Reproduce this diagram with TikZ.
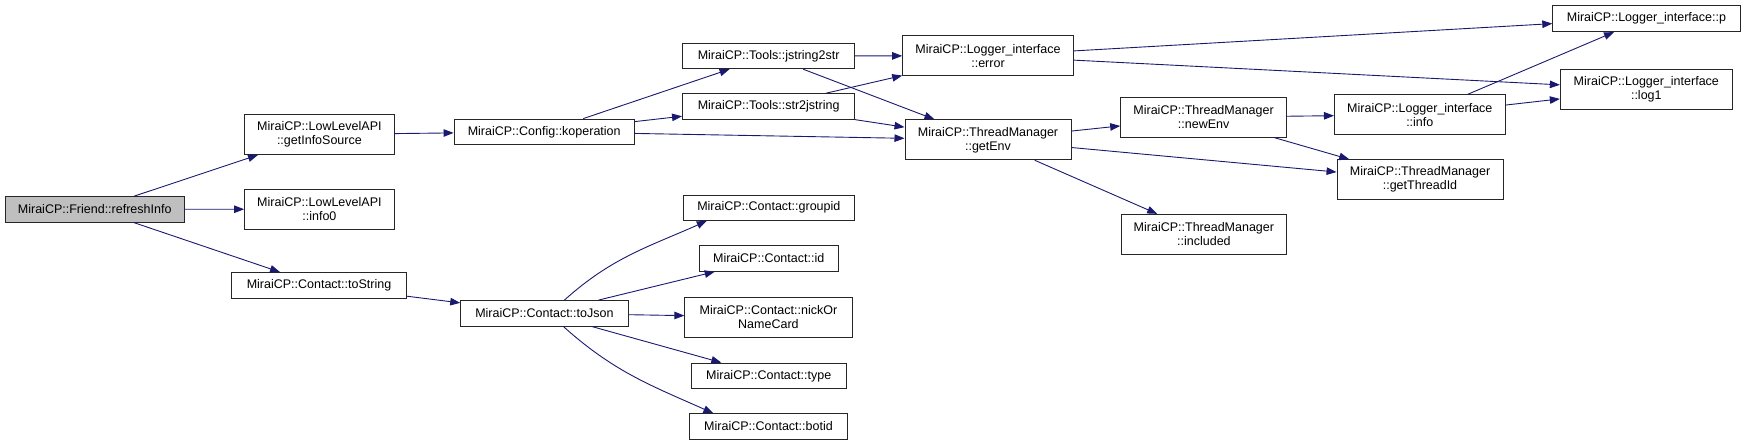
\documentclass[tikz,border=0pt]{standalone}
\usepackage{fontspec}
\setmainfont{Liberation Sans}
\usetikzlibrary{arrows.meta}
\definecolor{edgeBlue}{HTML}{191970}
\definecolor{rootGray}{HTML}{BFBFBF}
\tikzset{
  fn/.style={draw=black!85, line width=0.9pt, fill=white, inner sep=0pt, align=center,
    minimum height=25.5pt, font=\fontsize{12.5}{14}\selectfont},
  fntwo/.style={fn, minimum height=40pt},
  call/.style={draw=edgeBlue, line width=0.9pt, -{Triangle[length=10pt,width=7.5pt]}}
}

\begin{document}
\begin{tikzpicture}[x=1pt, y=1pt]
  \useasboundingbox (0,0) rectangle (1745,-445);
  % caller and first level
  \node[fn, fill=rootGray, minimum width=178.6pt] (refresh) at (94.7,-209.3) {MiraiCP::Friend::refreshInfo};
  \node[fntwo, minimum width=149.6pt] (getinfo) at (319.4,-134.5) {MiraiCP::LowLevelAPI\\::getInfoSource};
  \node[fntwo, minimum width=149.6pt] (infozero) at (319.4,-209.2) {MiraiCP::LowLevelAPI\\::info0};
  \node[fn, minimum width=175.4pt] (tostring) at (319,-285.3) {MiraiCP::Contact::toString};
  \node[fn, minimum width=180.4pt] (koperation) at (544.2,-131.8) {MiraiCP::Config::koperation};
  \node[fn, minimum width=167.4pt] (tojson) at (544.4,-313.3) {MiraiCP::Contact::toJson};
  % tools and contact
  \node[fn, minimum width=172.2pt] (jstr) at (768.6,-56) {MiraiCP::Tools::jstring2str};
  \node[fn, minimum width=172.2pt] (strj) at (768.6,-106.5) {MiraiCP::Tools::str2jstring};
  \node[fn, minimum width=171.1pt] (groupid) at (768.8,-207.7) {MiraiCP::Contact::groupid};
  \node[fn, minimum width=139.3pt] (cid) at (768.7,-258.5) {MiraiCP::Contact::id};
  \node[fntwo, minimum width=167.2pt] (nick) at (768.4,-317) {MiraiCP::Contact::nickOr\\NameCard};
  \node[fn, minimum width=154.7pt] (ctype) at (768.7,-375.8) {MiraiCP::Contact::type};
  \node[fn, minimum width=157.3pt] (botid) at (768.5,-426.5) {MiraiCP::Contact::botid};
  % logger and threads
  \node[fntwo, minimum width=170.7pt] (logerror) at (988,-55.8) {MiraiCP::Logger\_interface\\::error};
  \node[fntwo, minimum width=166.1pt] (getenv) at (988,-139.8) {MiraiCP::ThreadManager\\::getEnv};
  \node[fntwo, minimum width=165.9pt] (newenv) at (1203.6,-117.2) {MiraiCP::ThreadManager\\::newEnv};
  \node[fntwo, minimum width=165.7pt] (included) at (1203.9,-234.3) {MiraiCP::ThreadManager\\::included};
  \node[fntwo, minimum width=170.8pt] (loginfo) at (1419.8,-114.7) {MiraiCP::Logger\_interface\\::info};
  \node[fntwo, minimum width=166pt] (threadid) at (1420,-179.7) {MiraiCP::ThreadManager\\::getThreadId};
  \node[fn, minimum width=187.3pt, minimum height=26.7pt] (logp) at (1646.4,-18.3) {MiraiCP::Logger\_interface::p};
  \node[fntwo, minimum width=172pt] (logone) at (1646.3,-89.2) {MiraiCP::Logger\_interface\\::log1};
  % calls
  \foreach \a/\b in {refresh/getinfo, refresh/infozero, refresh/tostring, getinfo/koperation,
      koperation/jstr, koperation/strj, koperation/getenv, jstr/logerror, jstr/getenv,
      strj/logerror, strj/getenv, logerror/logp, logerror/logone, getenv/newenv,
      getenv/threadid, getenv/included, newenv/loginfo, newenv/threadid, loginfo/logp,
      loginfo/logone, tostring/tojson, tojson/cid, tojson/nick, tojson/ctype}
    \draw[call] (\a) -- (\b);
  \draw[call] ([xshift=20pt]tojson.north) to[out=42,in=204] ([xshift=24pt]groupid.south west);
  \draw[call] ([xshift=19pt]tojson.south) to[out=-42,in=156] ([xshift=24pt]botid.north west);
\end{tikzpicture}
\end{document}
